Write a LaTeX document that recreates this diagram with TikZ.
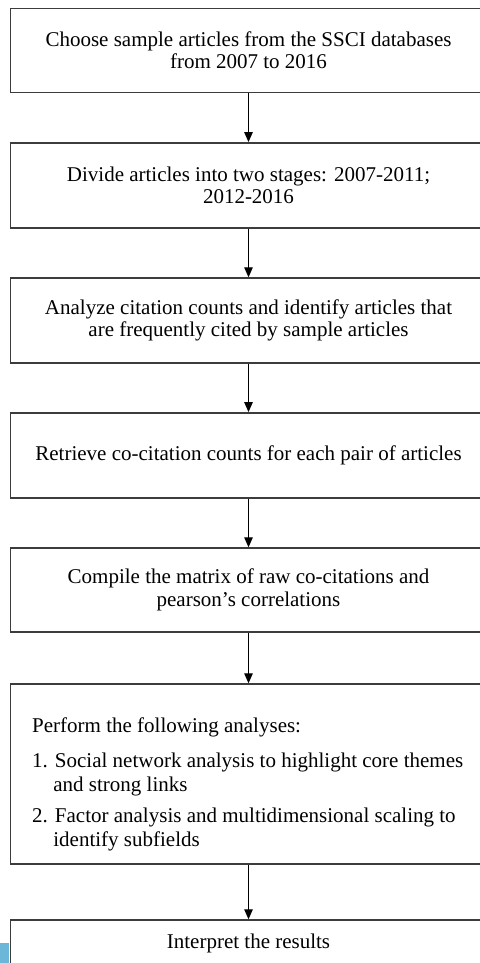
\documentclass[tikz,border=0pt]{standalone}
\usepackage{fontspec}
\setmainfont{Liberation Serif}
\usetikzlibrary{arrows.meta}
\definecolor{boxline}{RGB}{60,60,60}
\definecolor{sideblue}{RGB}{107,183,218}
\begin{document}
\begin{tikzpicture}[x=1pt,y=-1pt,
  stepbox/.style={draw=boxline, line width=1.4pt, minimum width=476pt, inner sep=0pt,
    align=center, font=\fontsize{21}{22.5}\selectfont},
  flow/.style={draw=black, line width=1.2pt, -{Triangle[length=10pt,width=8.5pt]}},
  listtext/.style={anchor=north west, inner sep=0pt, align=left,
    font=\fontsize{21}{24.5}\selectfont}]
\useasboundingbox (0,0) rectangle (479,963);
\fill[sideblue] (0,942.7) rectangle (9,963);

\node[stepbox, minimum height=84pt] (b1) at (248.5,50.25)
  {Choose sample articles from the SSCI databases\\from 2007 to 2016};
\node[stepbox, minimum height=85pt] (b2) at (248.5,185.3)
  {Divide articles into two stages: 2007-2011;\\2012-2016};
\node[stepbox, minimum height=85pt] (b3) at (248.5,320.5)
  {Analyze citation counts and identify articles that\\are frequently cited by sample articles};
\node[stepbox, minimum height=85pt] (b4) at (248.5,455.3)
  {Retrieve co-citation counts for each pair of articles};
\node[stepbox, minimum height=84pt] (b5) at (248.5,590)
  {Compile the matrix of raw co-citations and\\pearson’s correlations};
\node[stepbox, minimum height=180pt] (b6) at (248.5,774) {};
\node[listtext] (t6) at (32,717.3)
  {Perform the following analyses:\\[10.5pt]
   1. Social network analysis to highlight core themes\\
   \hspace*{21.2pt}and strong links\\[6pt]
   2. Factor analysis and multidimensional scaling to\\
   \hspace*{21.2pt}identify subfields};
\node[stepbox, minimum height=46pt] (b7) at (248.5,943)
  {Interpret the results};

\draw[flow] (b1.south) -- (b2.north);
\draw[flow] (b2.south) -- (b3.north);
\draw[flow] (b3.south) -- (b4.north);
\draw[flow] (b4.south) -- (b5.north);
\draw[flow] (b5.south) -- (b6.north);
\draw[flow] (b6.south) -- (b7.north);
\end{tikzpicture}
\end{document}
